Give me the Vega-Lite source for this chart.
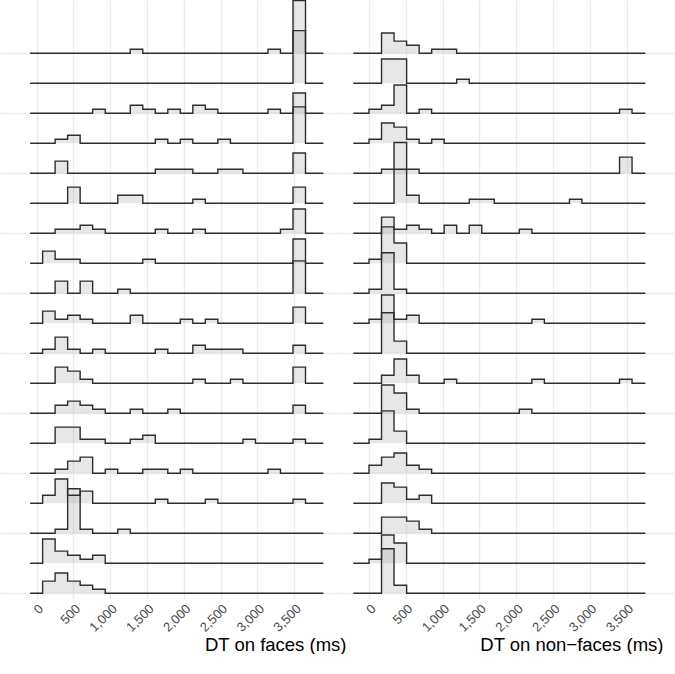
{
  "$schema": "https://vega.github.io/schema/vega-lite/v6.json",
  "padding": 0,
  "autosize": {"type": "pad"},
  "spacing": 0,
  "bounds": "flush",
  "config": {
    "view": {"stroke": null},
    "font": "Liberation Sans",
    "axis": {"gridColor": "#ebebeb", "gridWidth": 1.4}
  },
  "datasets": {
    "faces": [
      {"subject":1,"dt":-89,"count":0},{"subject":1,"dt":1272,"count":1},{"subject":1,"dt":1442,"count":0},{"subject":1,"dt":3143,"count":1},{"subject":1,"dt":3313,"count":0},{"subject":1,"dt":3483,"count":13},{"subject":1,"dt":3653,"count":0},{"subject":1,"dt":3896,"count":0},
      {"subject":2,"dt":-89,"count":0},{"subject":2,"dt":3483,"count":13},{"subject":2,"dt":3653,"count":0},{"subject":2,"dt":3896,"count":0},
      {"subject":3,"dt":-89,"count":0},{"subject":3,"dt":761,"count":1},{"subject":3,"dt":932,"count":0},{"subject":3,"dt":1272,"count":2},{"subject":3,"dt":1442,"count":1},{"subject":3,"dt":1612,"count":0},{"subject":3,"dt":1782,"count":1},{"subject":3,"dt":1952,"count":0},{"subject":3,"dt":2122,"count":2},{"subject":3,"dt":2292,"count":1},{"subject":3,"dt":2462,"count":0},{"subject":3,"dt":3143,"count":1},{"subject":3,"dt":3313,"count":0},{"subject":3,"dt":3483,"count":5},{"subject":3,"dt":3653,"count":0},{"subject":3,"dt":3896,"count":0},
      {"subject":4,"dt":-89,"count":0},{"subject":4,"dt":251,"count":1},{"subject":4,"dt":421,"count":2},{"subject":4,"dt":591,"count":0},{"subject":4,"dt":1612,"count":1},{"subject":4,"dt":1782,"count":0},{"subject":4,"dt":1952,"count":1},{"subject":4,"dt":2122,"count":0},{"subject":4,"dt":2462,"count":1},{"subject":4,"dt":2633,"count":0},{"subject":4,"dt":3483,"count":9},{"subject":4,"dt":3653,"count":0},{"subject":4,"dt":3896,"count":0},
      {"subject":5,"dt":-89,"count":0},{"subject":5,"dt":251,"count":3},{"subject":5,"dt":421,"count":0},{"subject":5,"dt":1612,"count":1},{"subject":5,"dt":1782,"count":1},{"subject":5,"dt":1952,"count":1},{"subject":5,"dt":2122,"count":0},{"subject":5,"dt":2462,"count":1},{"subject":5,"dt":2633,"count":1},{"subject":5,"dt":2803,"count":0},{"subject":5,"dt":3483,"count":5},{"subject":5,"dt":3653,"count":0},{"subject":5,"dt":3896,"count":0},
      {"subject":6,"dt":-89,"count":0},{"subject":6,"dt":421,"count":4},{"subject":6,"dt":591,"count":0},{"subject":6,"dt":1102,"count":2},{"subject":6,"dt":1272,"count":2},{"subject":6,"dt":1442,"count":0},{"subject":6,"dt":2122,"count":1},{"subject":6,"dt":2292,"count":0},{"subject":6,"dt":3483,"count":4},{"subject":6,"dt":3653,"count":0},{"subject":6,"dt":3896,"count":0},
      {"subject":7,"dt":-89,"count":0},{"subject":7,"dt":251,"count":1},{"subject":7,"dt":421,"count":1},{"subject":7,"dt":591,"count":2},{"subject":7,"dt":761,"count":1},{"subject":7,"dt":932,"count":0},{"subject":7,"dt":1612,"count":1},{"subject":7,"dt":1782,"count":0},{"subject":7,"dt":2122,"count":1},{"subject":7,"dt":2292,"count":0},{"subject":7,"dt":3313,"count":1},{"subject":7,"dt":3483,"count":6},{"subject":7,"dt":3653,"count":0},{"subject":7,"dt":3896,"count":0},
      {"subject":8,"dt":-89,"count":0},{"subject":8,"dt":81,"count":3},{"subject":8,"dt":251,"count":1},{"subject":8,"dt":421,"count":1},{"subject":8,"dt":591,"count":0},{"subject":8,"dt":1442,"count":1},{"subject":8,"dt":1612,"count":0},{"subject":8,"dt":3483,"count":6},{"subject":8,"dt":3653,"count":0},{"subject":8,"dt":3896,"count":0},
      {"subject":9,"dt":-89,"count":0},{"subject":9,"dt":251,"count":3},{"subject":9,"dt":421,"count":0},{"subject":9,"dt":591,"count":3},{"subject":9,"dt":761,"count":0},{"subject":9,"dt":1102,"count":1},{"subject":9,"dt":1272,"count":0},{"subject":9,"dt":3483,"count":8},{"subject":9,"dt":3653,"count":0},{"subject":9,"dt":3896,"count":0},
      {"subject":10,"dt":-89,"count":0},{"subject":10,"dt":81,"count":3},{"subject":10,"dt":251,"count":1},{"subject":10,"dt":421,"count":2},{"subject":10,"dt":591,"count":1},{"subject":10,"dt":761,"count":0},{"subject":10,"dt":1272,"count":2},{"subject":10,"dt":1442,"count":0},{"subject":10,"dt":1952,"count":1},{"subject":10,"dt":2122,"count":0},{"subject":10,"dt":2292,"count":1},{"subject":10,"dt":2462,"count":0},{"subject":10,"dt":3483,"count":4},{"subject":10,"dt":3653,"count":0},{"subject":10,"dt":3896,"count":0},
      {"subject":11,"dt":-89,"count":0},{"subject":11,"dt":81,"count":1},{"subject":11,"dt":251,"count":4},{"subject":11,"dt":421,"count":1},{"subject":11,"dt":591,"count":0},{"subject":11,"dt":761,"count":1},{"subject":11,"dt":932,"count":0},{"subject":11,"dt":1612,"count":1},{"subject":11,"dt":1782,"count":0},{"subject":11,"dt":2122,"count":2},{"subject":11,"dt":2292,"count":1},{"subject":11,"dt":2462,"count":1},{"subject":11,"dt":2633,"count":1},{"subject":11,"dt":2803,"count":0},{"subject":11,"dt":3483,"count":2},{"subject":11,"dt":3653,"count":0},{"subject":11,"dt":3896,"count":0},
      {"subject":12,"dt":-89,"count":0},{"subject":12,"dt":251,"count":4},{"subject":12,"dt":421,"count":3},{"subject":12,"dt":591,"count":1},{"subject":12,"dt":761,"count":0},{"subject":12,"dt":2122,"count":1},{"subject":12,"dt":2292,"count":0},{"subject":12,"dt":2633,"count":1},{"subject":12,"dt":2803,"count":0},{"subject":12,"dt":3483,"count":4},{"subject":12,"dt":3653,"count":0},{"subject":12,"dt":3896,"count":0},
      {"subject":13,"dt":-89,"count":0},{"subject":13,"dt":251,"count":2},{"subject":13,"dt":421,"count":3},{"subject":13,"dt":591,"count":2},{"subject":13,"dt":761,"count":1},{"subject":13,"dt":932,"count":0},{"subject":13,"dt":1272,"count":1},{"subject":13,"dt":1442,"count":0},{"subject":13,"dt":1782,"count":1},{"subject":13,"dt":1952,"count":0},{"subject":13,"dt":3483,"count":2},{"subject":13,"dt":3653,"count":0},{"subject":13,"dt":3896,"count":0},
      {"subject":14,"dt":-89,"count":0},{"subject":14,"dt":251,"count":4},{"subject":14,"dt":421,"count":4},{"subject":14,"dt":591,"count":1},{"subject":14,"dt":761,"count":1},{"subject":14,"dt":932,"count":0},{"subject":14,"dt":1272,"count":1},{"subject":14,"dt":1442,"count":2},{"subject":14,"dt":1612,"count":0},{"subject":14,"dt":2803,"count":1},{"subject":14,"dt":2973,"count":0},{"subject":14,"dt":3483,"count":1},{"subject":14,"dt":3653,"count":0},{"subject":14,"dt":3896,"count":0},
      {"subject":15,"dt":-89,"count":0},{"subject":15,"dt":251,"count":1},{"subject":15,"dt":421,"count":3},{"subject":15,"dt":591,"count":4},{"subject":15,"dt":761,"count":0},{"subject":15,"dt":932,"count":1},{"subject":15,"dt":1102,"count":0},{"subject":15,"dt":1442,"count":1},{"subject":15,"dt":1612,"count":1},{"subject":15,"dt":1782,"count":0},{"subject":15,"dt":1952,"count":1},{"subject":15,"dt":2122,"count":0},{"subject":15,"dt":3143,"count":1},{"subject":15,"dt":3313,"count":0},{"subject":15,"dt":3896,"count":0},
      {"subject":16,"dt":-89,"count":0},{"subject":16,"dt":81,"count":2},{"subject":16,"dt":251,"count":6},{"subject":16,"dt":421,"count":2},{"subject":16,"dt":591,"count":3},{"subject":16,"dt":761,"count":0},{"subject":16,"dt":1612,"count":1},{"subject":16,"dt":1782,"count":0},{"subject":16,"dt":2292,"count":1},{"subject":16,"dt":2462,"count":0},{"subject":16,"dt":3483,"count":1},{"subject":16,"dt":3653,"count":0},{"subject":16,"dt":3896,"count":0},
      {"subject":17,"dt":-89,"count":0},{"subject":17,"dt":251,"count":1},{"subject":17,"dt":421,"count":11},{"subject":17,"dt":591,"count":1},{"subject":17,"dt":761,"count":0},{"subject":17,"dt":1102,"count":1},{"subject":17,"dt":1272,"count":0},{"subject":17,"dt":3896,"count":0},
      {"subject":18,"dt":-89,"count":0},{"subject":18,"dt":81,"count":6},{"subject":18,"dt":251,"count":3},{"subject":18,"dt":421,"count":2},{"subject":18,"dt":591,"count":1},{"subject":18,"dt":761,"count":2},{"subject":18,"dt":932,"count":0},{"subject":18,"dt":3896,"count":0},
      {"subject":19,"dt":-89,"count":0},{"subject":19,"dt":81,"count":3},{"subject":19,"dt":251,"count":5},{"subject":19,"dt":421,"count":3},{"subject":19,"dt":591,"count":2},{"subject":19,"dt":761,"count":1},{"subject":19,"dt":932,"count":0},{"subject":19,"dt":3896,"count":0}
    ],
    "nonfaces": [
      {"subject":1,"dt":-213,"count":0},{"subject":1,"dt":170,"count":5},{"subject":1,"dt":340,"count":3},{"subject":1,"dt":511,"count":2},{"subject":1,"dt":681,"count":0},{"subject":1,"dt":851,"count":1},{"subject":1,"dt":1021,"count":1},{"subject":1,"dt":1191,"count":0},{"subject":1,"dt":3755,"count":0},
      {"subject":2,"dt":-213,"count":0},{"subject":2,"dt":170,"count":6},{"subject":2,"dt":340,"count":6},{"subject":2,"dt":511,"count":0},{"subject":2,"dt":1191,"count":1},{"subject":2,"dt":1362,"count":0},{"subject":2,"dt":3755,"count":0},
      {"subject":3,"dt":-213,"count":0},{"subject":3,"dt":0,"count":1},{"subject":3,"dt":170,"count":2},{"subject":3,"dt":340,"count":7},{"subject":3,"dt":511,"count":0},{"subject":3,"dt":681,"count":1},{"subject":3,"dt":851,"count":0},{"subject":3,"dt":3404,"count":1},{"subject":3,"dt":3574,"count":0},{"subject":3,"dt":3755,"count":0},
      {"subject":4,"dt":-213,"count":0},{"subject":4,"dt":0,"count":1},{"subject":4,"dt":170,"count":5},{"subject":4,"dt":340,"count":4},{"subject":4,"dt":511,"count":1},{"subject":4,"dt":681,"count":0},{"subject":4,"dt":851,"count":1},{"subject":4,"dt":1021,"count":0},{"subject":4,"dt":3755,"count":0},
      {"subject":5,"dt":-213,"count":0},{"subject":5,"dt":170,"count":1},{"subject":5,"dt":340,"count":1},{"subject":5,"dt":511,"count":1},{"subject":5,"dt":681,"count":0},{"subject":5,"dt":3404,"count":4},{"subject":5,"dt":3574,"count":0},{"subject":5,"dt":3755,"count":0},
      {"subject":6,"dt":-213,"count":0},{"subject":6,"dt":340,"count":15},{"subject":6,"dt":511,"count":2},{"subject":6,"dt":681,"count":0},{"subject":6,"dt":1362,"count":1},{"subject":6,"dt":1532,"count":1},{"subject":6,"dt":1702,"count":0},{"subject":6,"dt":2723,"count":1},{"subject":6,"dt":2893,"count":0},{"subject":6,"dt":3755,"count":0},
      {"subject":7,"dt":-213,"count":0},{"subject":7,"dt":170,"count":4},{"subject":7,"dt":340,"count":1},{"subject":7,"dt":511,"count":2},{"subject":7,"dt":681,"count":1},{"subject":7,"dt":851,"count":0},{"subject":7,"dt":1021,"count":2},{"subject":7,"dt":1191,"count":0},{"subject":7,"dt":1362,"count":2},{"subject":7,"dt":1532,"count":0},{"subject":7,"dt":2042,"count":1},{"subject":7,"dt":2213,"count":0},{"subject":7,"dt":3755,"count":0},
      {"subject":8,"dt":-213,"count":0},{"subject":8,"dt":0,"count":1},{"subject":8,"dt":170,"count":9},{"subject":8,"dt":340,"count":5},{"subject":8,"dt":511,"count":0},{"subject":8,"dt":3755,"count":0},
      {"subject":9,"dt":-213,"count":0},{"subject":9,"dt":0,"count":1},{"subject":9,"dt":170,"count":10},{"subject":9,"dt":340,"count":1},{"subject":9,"dt":511,"count":0},{"subject":9,"dt":3755,"count":0},
      {"subject":10,"dt":-213,"count":0},{"subject":10,"dt":0,"count":1},{"subject":10,"dt":170,"count":7},{"subject":10,"dt":340,"count":1},{"subject":10,"dt":511,"count":2},{"subject":10,"dt":681,"count":0},{"subject":10,"dt":2213,"count":1},{"subject":10,"dt":2383,"count":0},{"subject":10,"dt":3755,"count":0},
      {"subject":11,"dt":-213,"count":0},{"subject":11,"dt":170,"count":10},{"subject":11,"dt":340,"count":3},{"subject":11,"dt":511,"count":0},{"subject":11,"dt":3755,"count":0},
      {"subject":12,"dt":-213,"count":0},{"subject":12,"dt":170,"count":2},{"subject":12,"dt":340,"count":6},{"subject":12,"dt":511,"count":2},{"subject":12,"dt":681,"count":0},{"subject":12,"dt":1021,"count":1},{"subject":12,"dt":1191,"count":0},{"subject":12,"dt":2213,"count":1},{"subject":12,"dt":2383,"count":0},{"subject":12,"dt":3404,"count":1},{"subject":12,"dt":3574,"count":0},{"subject":12,"dt":3755,"count":0},
      {"subject":13,"dt":-213,"count":0},{"subject":13,"dt":170,"count":7},{"subject":13,"dt":340,"count":5},{"subject":13,"dt":511,"count":1},{"subject":13,"dt":681,"count":0},{"subject":13,"dt":2042,"count":1},{"subject":13,"dt":2213,"count":0},{"subject":13,"dt":3755,"count":0},
      {"subject":14,"dt":-213,"count":0},{"subject":14,"dt":0,"count":1},{"subject":14,"dt":170,"count":8},{"subject":14,"dt":340,"count":3},{"subject":14,"dt":511,"count":0},{"subject":14,"dt":3755,"count":0},
      {"subject":15,"dt":-213,"count":0},{"subject":15,"dt":0,"count":2},{"subject":15,"dt":170,"count":4},{"subject":15,"dt":340,"count":5},{"subject":15,"dt":511,"count":2},{"subject":15,"dt":681,"count":1},{"subject":15,"dt":851,"count":0},{"subject":15,"dt":3755,"count":0},
      {"subject":16,"dt":-213,"count":0},{"subject":16,"dt":170,"count":5},{"subject":16,"dt":340,"count":4},{"subject":16,"dt":511,"count":1},{"subject":16,"dt":681,"count":2},{"subject":16,"dt":851,"count":0},{"subject":16,"dt":3755,"count":0},
      {"subject":17,"dt":-213,"count":0},{"subject":17,"dt":170,"count":4},{"subject":17,"dt":340,"count":4},{"subject":17,"dt":511,"count":3},{"subject":17,"dt":681,"count":1},{"subject":17,"dt":851,"count":0},{"subject":17,"dt":3755,"count":0},
      {"subject":18,"dt":-213,"count":0},{"subject":18,"dt":0,"count":1},{"subject":18,"dt":170,"count":7},{"subject":18,"dt":340,"count":5},{"subject":18,"dt":511,"count":0},{"subject":18,"dt":3755,"count":0},
      {"subject":19,"dt":-213,"count":0},{"subject":19,"dt":170,"count":11},{"subject":19,"dt":340,"count":2},{"subject":19,"dt":511,"count":0},{"subject":19,"dt":3755,"count":0}
    ]
  },
  "hconcat": [
    {
      "width": 337,
      "height": 599,
      "data": {"name": "faces"},
      "transform": [
        {"calculate": "(19 - datum.subject) * 30 + 5.7", "as": "base"},
        {"calculate": "datum.base + datum.count * 4.05", "as": "top"}
      ],
      "encoding": {
        "x": {
          "field": "dt", "type": "quantitative",
          "scale": {"domain": [-498, 4081], "nice": false, "zero": false},
          "axis": {
            "values": [0, 500, 1000, 1500, 2000, 2500, 3000, 3500],
            "format": ",d", "labelAngle": -45, "labelAlign": "right", "labelBaseline": "top",
            "labelFontSize": 13, "labelColor": "#4d4d4d", "labelPadding": 3,
            "ticks": false, "domain": false, "grid": true,
            "title": "DT on faces (ms)", "titleFontSize": 18.5, "titleFontWeight": "normal",
            "titleColor": "#000000", "titleX": 346, "titleY": 51, "titleAlign": "right",
            "titleBaseline": "alphabetic", "titleAnchor": "end"
          }
        },
        "detail": {"field": "subject", "type": "nominal"}
      },
      "layer": [
        {
          "mark": {"type": "area", "interpolate": "step-after", "fill": "#a8a8a8", "fillOpacity": 0.28, "clip": true},
          "encoding": {
            "y": {
              "field": "top", "type": "quantitative", "stack": null,
              "scale": {"domain": [0, 599], "nice": false, "zero": false},
              "axis": {
                "values": [5.7, 35.7, 65.7, 95.7, 125.7, 155.7, 185.7, 215.7, 245.7, 275.7, 305.7, 335.7, 365.7, 395.7, 425.7, 455.7, 485.7, 515.7, 545.7],
                "labels": false, "ticks": false, "domain": false, "title": null, "grid": true
              }
            },
            "y2": {"field": "base"}
          }
        },
        {
          "mark": {"type": "line", "interpolate": "step-after", "stroke": "#2e2e2e", "strokeWidth": 1.4, "clip": true},
          "encoding": {"y": {"field": "top", "type": "quantitative", "stack": null}}
        }
      ]
    },
    {
      "width": 337,
      "height": 599,
      "data": {"name": "nonfaces"},
      "transform": [
        {"calculate": "(19 - datum.subject) * 30 + 5.7", "as": "base"},
        {"calculate": "datum.base + datum.count * 4.05", "as": "top"}
      ],
      "encoding": {
        "x": {
          "field": "dt", "type": "quantitative",
          "scale": {"domain": [-435, 4144], "nice": false, "zero": false},
          "axis": {
            "values": [0, 500, 1000, 1500, 2000, 2500, 3000, 3500],
            "format": ",d", "labelAngle": -45, "labelAlign": "right", "labelBaseline": "top",
            "labelFontSize": 13, "labelColor": "#4d4d4d", "labelPadding": 3,
            "ticks": false, "domain": false, "grid": true,
            "title": "DT on non−faces (ms)", "titleFontSize": 18.5, "titleFontWeight": "normal",
            "titleColor": "#000000", "titleX": 326, "titleY": 51, "titleAlign": "right",
            "titleBaseline": "alphabetic", "titleAnchor": "end"
          }
        },
        "detail": {"field": "subject", "type": "nominal"}
      },
      "layer": [
        {
          "mark": {"type": "area", "interpolate": "step-after", "fill": "#a8a8a8", "fillOpacity": 0.28, "clip": true},
          "encoding": {
            "y": {
              "field": "top", "type": "quantitative", "stack": null,
              "scale": {"domain": [0, 599], "nice": false, "zero": false},
              "axis": {
                "values": [5.7, 35.7, 65.7, 95.7, 125.7, 155.7, 185.7, 215.7, 245.7, 275.7, 305.7, 335.7, 365.7, 395.7, 425.7, 455.7, 485.7, 515.7, 545.7],
                "labels": false, "ticks": false, "domain": false, "title": null, "grid": true
              }
            },
            "y2": {"field": "base"}
          }
        },
        {
          "mark": {"type": "line", "interpolate": "step-after", "stroke": "#2e2e2e", "strokeWidth": 1.4, "clip": true},
          "encoding": {"y": {"field": "top", "type": "quantitative", "stack": null}}
        }
      ]
    }
  ]
}
